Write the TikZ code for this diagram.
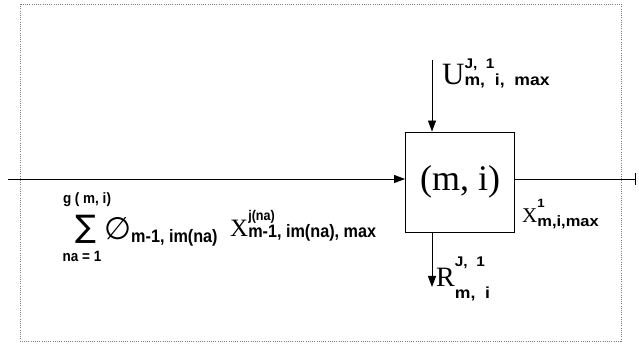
\documentclass[tikz,border=0pt]{standalone}
\usepackage{fontspec}
\setmainfont{Liberation Serif}
\newfontfamily\subfont[FakeStretch=0.9]{Liberation Sans}
\newfontfamily\widefont[FakeStretch=1.1,WordSpace=2]{Liberation Sans}
\newfontfamily\symfont{DejaVu Sans}
\usetikzlibrary{arrows.meta,positioning}
\newcommand{\sbf}[1]{\subfont\bfseries\fontsize{#1}{#1}\selectfont}
\newcommand{\wbf}[1]{\widefont\bfseries\fontsize{#1}{#1}\selectfont}
\newcommand{\supsub}[4]{\rlap{\raisebox{#1}{#2}}\raisebox{#3}{#4}}
\tikzset{
  blk/.style={draw,line width=0.9pt,minimum width=109pt,minimum height=100pt,inner sep=0pt,font=\fontsize{36}{36}\selectfont},
  arr/.style={-{Triangle[length=11pt,width=8pt]},line width=0.9pt},
  lbl/.style={inner sep=0pt,anchor=base west},
  frm/.style={draw=gray,line width=0.6pt,dash pattern=on 1pt off 1.2pt},
}

\begin{document}
\begin{tikzpicture}[x=1pt,y=-1pt]
 \useasboundingbox (0,0) rectangle (639,344);
 \draw[frm] (20,4) rectangle (621,341);
 \node[blk] (cell) at (460,182) {(m, i)};
 \coordinate (in) at (8,179); \coordinate (out) at (636,179);
 \coordinate (uin) at (432,60); \coordinate (rout) at (432,287);
 \draw[arr] (in) -- (in -| cell.west);
 \draw[line width=0.9pt,-{Bar[width=12pt,line width=1.2pt]}] (cell.east |- in) -- (out);
 \draw[arr] (uin) -- (uin |- cell.north);
 \draw[arr] (rout |- cell.south) -- (rout);
 % labels of the cell
 \node[lbl] (ulbl) at (442,85) {\fontsize{31}{31}\selectfont U\supsub{16pt}{\wbf{14}J, 1}{-1pt}{\wbf{16}m, i, max}};
 \node[lbl] (rlbl) at (436,287) {\fontsize{28}{28}\selectfont R\supsub{20pt}{\wbf{14}J, 1}{-12pt}{\wbf{16}m, i}};
 \node[lbl] (xlbl) at (522,223) {\fontsize{21}{21}\selectfont X\supsub{15pt}{\wbf{12}1}{-4pt}{\wbf{15}m,i,max}};
 % input sum
 \node[inner sep=0pt] (sig) at (86,229) {\symfont\fontsize{31}{31}\selectfont ∑};
 \node[inner sep=0pt,anchor=base] (gtop) at (87,204) {\sbf{15}g ( m, i)};
 \node[inner sep=0pt,anchor=base] (nabot) at (82,262) {\sbf{15}na = 1};
 \node[lbl] (phi) at (104,240) {{\symfont\fontsize{31}{31}\selectfont ∅}\raisebox{-3pt}{\sbf{18}m-1, im(na)}};
 \node[lbl] (xsum) at (230,237) {\fontsize{25}{25}\selectfont X\supsub{16pt}{\sbf{14}j(na)}{-1pt}{\sbf{18}m-1, im(na), max}};
\end{tikzpicture}
\end{document}
